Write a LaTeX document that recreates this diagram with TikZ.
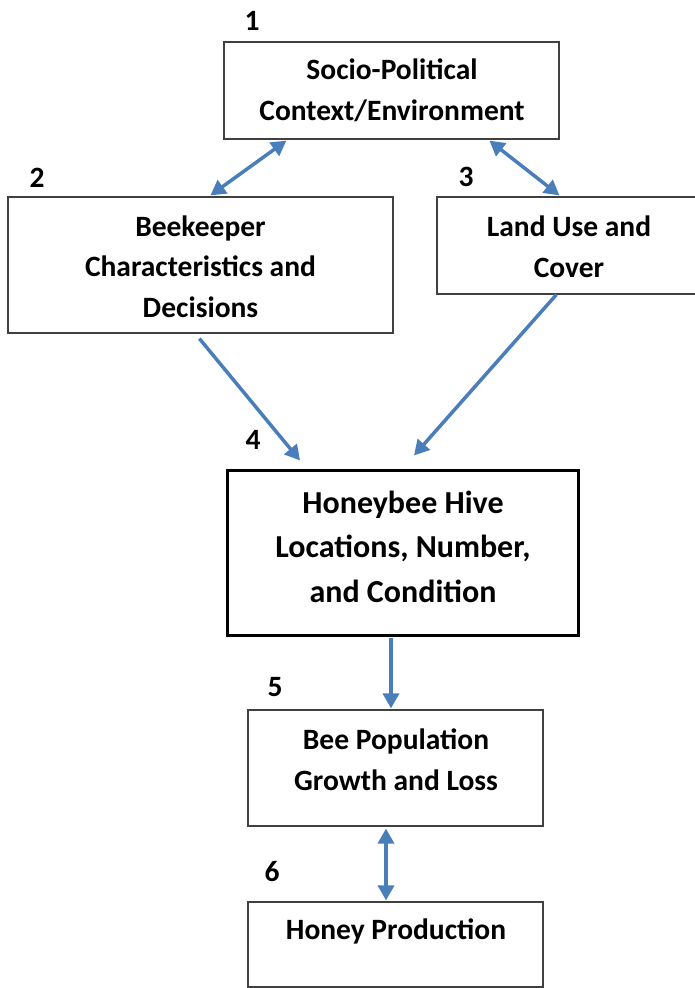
\documentclass[tikz,border=0pt]{standalone}
\usepackage{fontspec}
\setmainfont{Carlito}
\usetikzlibrary{arrows.meta}
\definecolor{arrowblue}{HTML}{4A7EBB}
\definecolor{boxline}{HTML}{404040}
\tikzset{
  boxnode/.style={draw=boxline, line width=1.2pt, rectangle, inner sep=0pt},
  bigbox/.style={draw=black, line width=3pt, rectangle, inner sep=0pt},
  txt/.style={font=\bfseries\fontsize{29.5}{40.5}\selectfont, align=center, inner sep=0pt, anchor=base},
  bigtxt/.style={font=\bfseries\fontsize{32}{44.5}\selectfont, align=center, inner sep=0pt, anchor=base},
  num/.style={font=\bfseries\fontsize{29.5}{32}\selectfont, inner sep=0pt},
  conn/.style={draw=arrowblue, line width=3.5pt, -{Triangle[length=15pt,width=16pt]}},
  bconn/.style={draw=arrowblue, line width=3.5pt, {Triangle[length=15pt,width=16pt]}-{Triangle[length=15pt,width=16pt]}}
}
\begin{document}
\begin{tikzpicture}[x=1pt,y=-1pt]
\useasboundingbox (0,0) rectangle (694,988);
\fill[white] (0,0) rectangle (694,988);
% boxes
\node[boxnode, minimum width=335pt, minimum height=97pt] (b1) at (391.5,90.5) {};
\node[boxnode, minimum width=385pt, minimum height=136pt] (b2) at (200.5,265) {};
\node[boxnode, minimum width=264pt, minimum height=97pt] (b3) at (569,245.5) {};
\node[bigbox, minimum width=351pt, minimum height=165pt] (b4) at (403,552.5) {};
\node[boxnode, minimum width=295pt, minimum height=116pt] (b5) at (395.5,768) {};
\node[boxnode, minimum width=295pt, minimum height=85pt] (b6) at (395.5,944.5) {};
% texts (anchor = baseline of last line)
\node[txt] (t1) at (392,120) {Socio-Political\\Context/Environment};
\node[txt] (t2) at (200.5,317) {Beekeeper\\Characteristics and\\Decisions};
\node[txt] (t3) at (569,277) {Land Use and\\Cover};
\node[bigtxt] (t4) at (403,602) {Honeybee Hive\\Locations, Number,\\and Condition};
\node[txt] (t5) at (396,790) {Bee Population\\Growth and Loss};
\node[txt] (t6) at (396,939) {Honey Production};
% numbers
\node[num] (n1) at (252,21) {1};
\node[num] (n2) at (37,178) {2};
\node[num] (n3) at (466,177) {3};
\node[num] (n4) at (253,440) {4};
\node[num] (n5) at (275,687) {5};
\node[num] (n6) at (272,872) {6};
% connector endpoints
\coordinate (a12s) at ([xshift=63pt,yshift=-1pt]b1.south west);
\coordinate (a12e) at ([xshift=203pt,yshift=1pt]b2.north west);
\coordinate (a13s) at ([xshift=266pt,yshift=-1pt]b1.south west);
\coordinate (a13e) at ([xshift=123pt,yshift=1pt]b3.north west);
\coordinate (a24s) at ([xshift=192pt,yshift=-5pt]b2.south west);
\coordinate (a24e) at ([xshift=74pt,yshift=8pt]b4.north west);
\coordinate (a34s) at ([xshift=120pt,yshift=0pt]b3.south west);
\coordinate (a34e) at ([xshift=188pt,yshift=13pt]b4.north west);
\coordinate (a45s) at ([xshift=-12pt,yshift=-1.5pt]b4.south);
\coordinate (a45e) at ([xshift=-4.5pt,yshift=1pt]b5.north);
\coordinate (a56s) at ([xshift=-9.5pt,yshift=-2pt]b5.south);
\coordinate (a56e) at ([xshift=-9.5pt,yshift=1pt]b6.north);
% connectors
\draw[bconn] (a12s) -- (a12e);
\draw[bconn] (a13s) -- (a13e);
\draw[conn] (a24s) -- (a24e);
\draw[conn] (a34s) -- (a34e);
\draw[conn] (a45s) -- (a45e);
\draw[bconn] (a56s) -- (a56e);
\end{tikzpicture}
\end{document}
